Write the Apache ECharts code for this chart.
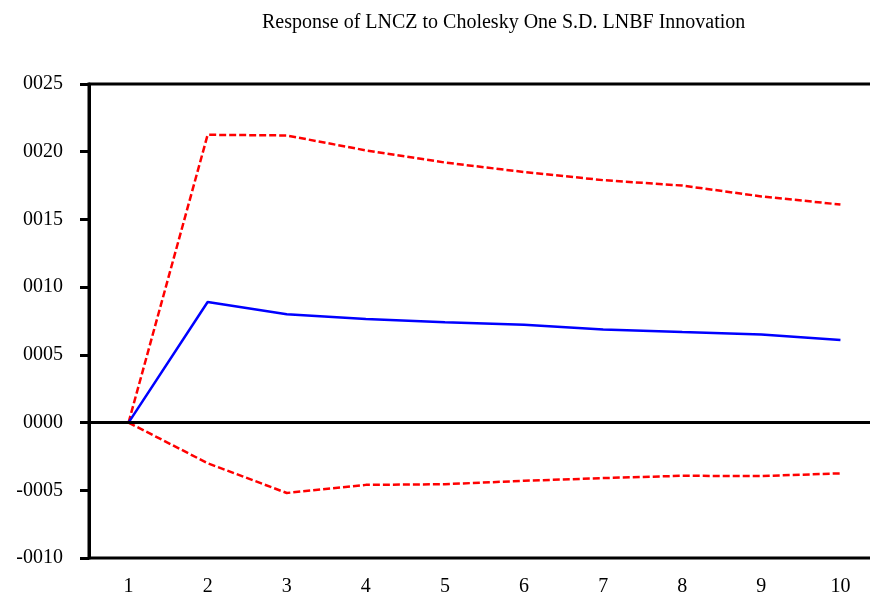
<!DOCTYPE html>
<html>
<head>
<meta charset="utf-8">
<script src="https://cdn.jsdelivr.net/npm/echarts@6/dist/echarts.min.js"></script>
<style>
  html, body { margin: 0; padding: 0; background: #fff; }
  #chart { width: 870px; height: 601px; }
</style>
</head>
<body>
<div id="chart"></div>
<script>
// periods
var periods = ['1', '2', '3', '4', '5', '6', '7', '8', '9', '10']
// impulse response and +/- 2 S.E. bands
var response = [0, 0.00089, 0.00080, 0.000765, 0.00074, 0.000723, 0.000688, 0.000668, 0.00065, 0.00061]
var upperBand = [0, 0.002125, 0.00212, 0.00201, 0.00192, 0.00185, 0.00179, 0.00175, 0.00167, 0.00161]
var lowerBand = [0, -0.0003, -0.00052, -0.00046, -0.000455, -0.00043, -0.00041, -0.000393, -0.000395, -0.000375]
// y tick labels as printed (no decimal point)
var yTickLabels = ['-0010', '-0005', '0000', '0005', '0010', '0015', '0020', '0025']
var yMin = -0.001
var yStep = 0.0005

var chart = echarts.init(document.getElementById('chart'))
chart.setOption({
  animation: false,
  title: {
    text: 'Response of LNCZ to Cholesky One S.D. LNBF Innovation',
    left: 257,
    top: 8,
    textStyle: {
      fontFamily: 'Liberation Serif',
      fontSize: 20,
      fontWeight: 'normal',
      color: '#000'
    }
  },
  grid: {
    left: 89,
    width: 791,
    top: 84,
    height: 474,
    outerBoundsMode: 'none',
    containLabel: false,
    show: true,
    borderColor: '#000',
    borderWidth: 3
  },
  xAxis: {
    type: 'category',
    data: periods,
    boundaryGap: true,
    axisLine: { lineStyle: { color: '#000', width: 3 } },
    axisTick: { length: 4, lineStyle: { color: '#000', width: 3 } },
    axisLabel: {
      margin: 19,
      fontFamily: 'Liberation Serif',
      fontSize: 20,
      color: '#000'
    },
    splitLine: { show: false }
  },
  yAxis: {
    type: 'value',
    min: yMin,
    max: 0.0025,
    interval: yStep,
    axisLine: { show: true, lineStyle: { color: '#000', width: 3 } },
    axisTick: { show: true, length: 9, lineStyle: { color: '#000', width: 3 } },
    axisLabel: {
      margin: 26,
      fontFamily: 'Liberation Serif',
      fontSize: 20,
      color: '#000',
      formatter: function (v) {
        return yTickLabels[Math.round((v - yMin) / yStep)]
      }
    },
    splitLine: { show: false }
  },
  series: [
    {
      name: 'upper',
      type: 'line',
      data: upperBand,
      symbol: 'none',
      lineStyle: { color: '#ff0000', width: 2.5, type: [7, 3] }
    },
    {
      name: 'lower',
      type: 'line',
      data: lowerBand,
      symbol: 'none',
      lineStyle: { color: '#ff0000', width: 2.5, type: [7, 3] }
    },
    {
      name: 'response',
      type: 'line',
      data: response,
      symbol: 'none',
      lineStyle: { color: '#0000ff', width: 2.5 },
      markLine: {
        silent: true,
        symbol: 'none',
        label: { show: false },
        lineStyle: { color: '#000', width: 3, type: 'solid' },
        data: [{ yAxis: 0 }]
      }
    }
  ]
})
</script>
</body>
</html>
